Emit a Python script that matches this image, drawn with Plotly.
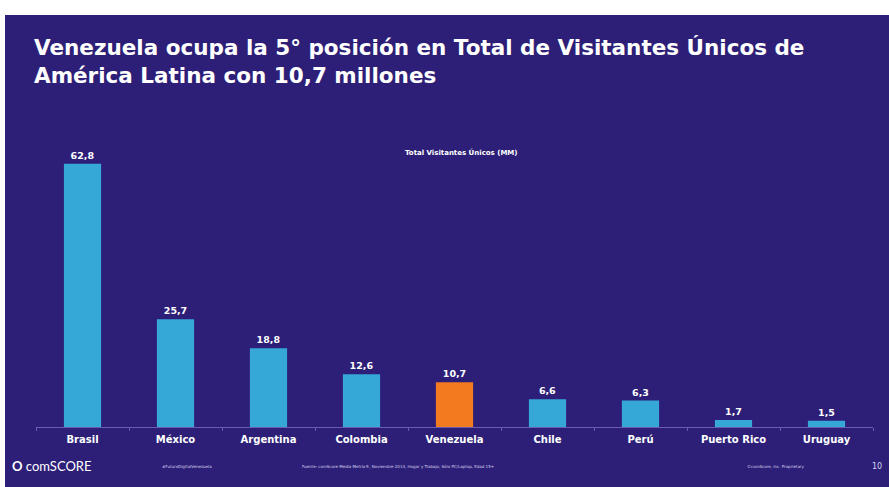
import plotly.graph_objects as go

# Datos: visitantes únicos (millones) por país
paises = ["Brasil", "México", "Argentina", "Colombia", "Venezuela",
          "Chile", "Perú", "Puerto Rico", "Uruguay"]
visitantes = [62.8, 25.7, 18.8, 12.6, 10.7, 6.6, 6.3, 1.7, 1.5]
etiquetas = ["62,8", "25,7", "18,8", "12,6", "10,7", "6,6", "6,3", "1,7", "1,5"]
destacado = "Venezuela"

FONDO = "#2d1f77"
AZUL = "#35a8d8"
NARANJA = "#f27a1f"
FUENTE = "DejaVu Sans"

colores = [NARANJA if p == destacado else AZUL for p in paises]

W, H = 889, 487
ML, MR, MT, MB = 36, 16, 130, 60
plot_h = H - MT - MB

fig = go.Figure(
    go.Bar(
        x=paises,
        y=visitantes,
        marker=dict(color=colores, line=dict(width=0)),
        width=0.4,
        text=[f"<b>{t}</b>" for t in etiquetas],
        textposition="outside",
        textfont=dict(color="white", size=9.5, family=FUENTE),
        cliponaxis=False,
    )
)

fig.update_layout(
    width=W,
    height=H,
    margin=dict(l=ML, r=MR, t=MT, b=MB),
    paper_bgcolor=FONDO,
    plot_bgcolor=FONDO,
    showlegend=False,
    xaxis=dict(
        type="category",
        range=[-0.5, 8.5],
        showgrid=False,
        showline=True,
        linecolor="#6a5db0",
        linewidth=1,
        ticks="outside",
        tickson="boundaries",
        ticklen=3,
        tickcolor="#6a5db0",
        ticklabelstandoff=3,
        tickfont=dict(color="white", size=10, family=FUENTE),
        tickprefix="<b>",
        ticksuffix="</b>",
    ),
    yaxis=dict(
        range=[0, plot_h / 4.19],
        visible=False,
        showgrid=False,
        zeroline=False,
    ),
)

def px_x(v):
    return (v - ML) / (W - ML - MR)

def px_y(v):
    return (H - MB - v) / plot_h

# Franja blanca superior e izquierda del marco de la diapositiva
fig.add_shape(type="rect", xref="paper", yref="paper",
              x0=px_x(0), x1=px_x(W), y0=px_y(15), y1=px_y(0),
              fillcolor="white", line=dict(width=0), layer="above")
fig.add_shape(type="rect", xref="paper", yref="paper",
              x0=px_x(0), x1=px_x(5), y0=px_y(H), y1=px_y(0),
              fillcolor="white", line=dict(width=0), layer="above")

# Título de la diapositiva
fig.add_annotation(
    xref="paper", yref="paper", x=px_x(32), y=px_y(33),
    xanchor="left", yanchor="top", align="left", showarrow=False,
    text="<b>Venezuela ocupa la 5° posición en Total de Visitantes Únicos de<br>"
         "América Latina con 10,7 millones</b>",
    font=dict(color="white", size=21.5, family=FUENTE),
)

# Título del gráfico
fig.add_annotation(
    xref="paper", yref="paper", x=px_x(461), y=px_y(152),
    xanchor="center", yanchor="middle", showarrow=False,
    text="<b>Total Visitantes Únicos (MM)</b>",
    font=dict(color="white", size=7, family=FUENTE),
)

# Pie de página
fig.add_annotation(
    xref="paper", yref="paper", x=px_x(10), y=px_y(466),
    xanchor="left", yanchor="middle", showarrow=False,
    text="<b>O</b> comSCORE",
    font=dict(color="white", size=13, family="Lato"),
)
pie = [
    (160, "#FuturoDigitalVenezuela"),
    (300, "Fuente: comScore Media Metrix®, Noviembre 2014, Hogar y Trabajo, Sólo PC/Laptop, Edad 15+"),
    (745, "©comScore, Inc. Proprietary"),
]
for xp, txt in pie:
    fig.add_annotation(
        xref="paper", yref="paper", x=px_x(xp), y=px_y(466),
        xanchor="left", yanchor="middle", showarrow=False,
        text=txt, font=dict(color="#d8d4f0", size=4, family=FUENTE),
    )
fig.add_annotation(
    xref="paper", yref="paper", x=px_x(884), y=px_y(466),
    xanchor="right", yanchor="middle", showarrow=False,
    text="10", font=dict(color="#d8d4f0", size=8, family=FUENTE),
)

fig.write_html("out.html")
